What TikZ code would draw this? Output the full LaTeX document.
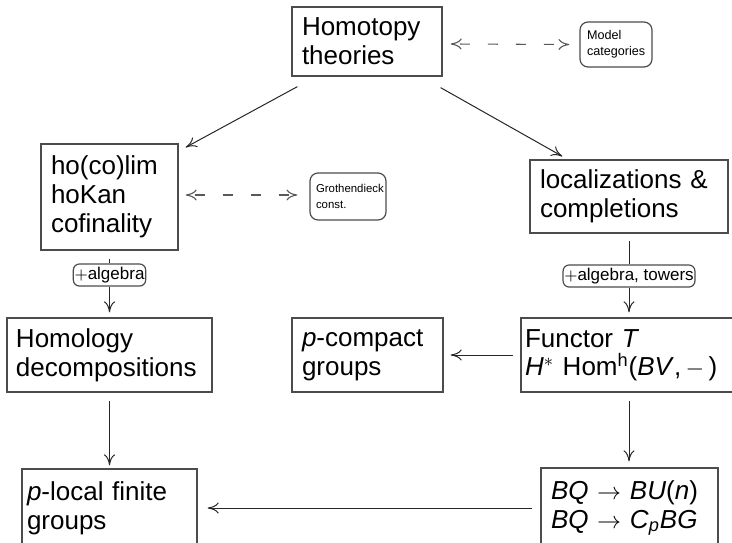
\documentclass[tikz,border=0pt]{standalone}
\usepackage{fontspec}
\setmainfont{Liberation Sans}
\usetikzlibrary{arrows.meta}

\tikzset{
  box/.style={draw=black!70, line width=0.65pt, align=left, inner ysep=0pt,
    inner xsep=5pt, font=\fontsize{13}{14.5}\selectfont},
  note/.style={draw=black!70, line width=0.6pt, rounded corners=4pt, align=left,
    inner ysep=0pt},
  tag/.style={draw=black!70, line width=0.6pt, rounded corners=3pt, fill=white,
    inner xsep=0.6pt, inner ysep=0pt, minimum height=11pt,
    font=\fontsize{8.5}{9.5}\selectfont},
  tip/.tip={To[length=5.5pt,width=5.5pt]},
  arr/.style={draw=black!85, line width=0.5pt, -tip},
  plain/.style={draw=black!85, line width=0.5pt},
  dasharr/.style={draw=black!65, line width=0.55pt, dash pattern=on 5pt off 9pt,
    dash phase=-4pt, tip-tip}
}

\begin{document}
\begin{tikzpicture}[x=0.5pt,y=-0.5pt]
\useasboundingbox (0,0) rectangle (732,542);
\clip (0,0) rectangle (732,542);

% boxes (positions in pixel units, sizes in pt)
\node[box, text width=65pt, minimum height=34.5pt] (homotopy) at (367,41.5)
  {Homotopy\\theories};
\node[note, text width=29pt, inner xsep=3.5pt, minimum height=22.5pt,
  font=\fontsize{6.3}{8.2}\selectfont] (model) at (616,44.5)
  {Model\\categories};
\node[box, text width=58.5pt, minimum height=53pt] (hocolim) at (109.5,197)
  {ho(co)lim\\hoKan\\cofinality};
\node[note, text width=32pt, inner xsep=3pt, minimum height=23.5pt,
  font=\fontsize{5.7}{7.8}\selectfont] (groth) at (348,196.5)
  {Grothendieck\\const.};
\node[box, text width=89pt, minimum height=36.5pt] (loc) at (629,196.5)
  {localizations \&\\completions};
\node[box, text width=93.5pt, inner xsep=4.5pt, minimum height=37pt] (homology) at (109.5,355)
  {Homology\\decompositions};
\node[box, text width=65.5pt, minimum height=37pt] (pcompact) at (367.5,355)
  {\textit{p}-compact\\groups};
\node[box, text width=108pt, inner xsep=2pt, minimum height=37pt] (functor) at (633,355)
  {Functor \textit{T}\\[-0.6pt]\textit{H}$^{*}$\ Hom\textsuperscript{h}(\textit{BV\/},\,$-$\,)};
\node[box, text width=78.5pt, minimum height=40pt] (bq) at (629.5,508)
  {\textit{BQ}\,\,$\to$\,\,\textit{BU}(\textit{n})\\\textit{BQ}\,\,$\to$\,\,\textit{C}\textsubscript{\textit{p}}\textit{BG}};
\node[box, text width=82.5pt, inner xsep=2.5pt, minimum height=39pt] (plocal) at (109.5,508)
  {\textit{p}-local finite\\groups};

% labels sitting on the vertical connectors
\node[tag] (alg1) at (109.5,275) {$+$algebra};
\node[tag] (alg2) at (629,276) {$+$algebra, towers};

% connectors
\draw[arr] ([shift={(6,10)}]homotopy.south west) -- ([shift={(7,4)}]hocolim.north east);
\draw[arr] ([shift={(-2,11)}]homotopy.south east) -- ([shift={(33,-3)}]loc.north west);
\draw[dasharr] ([shift={(8,2.5)}]homotopy.east) -- ([shift={(-10,0)}]model.west);
\draw[dasharr] ([shift={(7,-2)}]hocolim.east) -- ([shift={(-12,-1.5)}]groth.west);

\draw[plain] ([shift={(0,8)}]hocolim.south) -- (alg1.north);
\draw[arr] (alg1.south) -- ([shift={(0,-5)}]homology.north);
\draw[plain] ([shift={(0,7)}]loc.south) -- (alg2.north);
\draw[arr] (alg2.south) -- ([shift={(0,-5)}]functor.north -| alg2.south);

\draw[arr] ([shift={(-7,0)}]functor.west) -- ([shift={(7,0)}]pcompact.east);
\draw[arr] ([shift={(0,8)}]homology.south) -- ([shift={(0,-3)}]plocal.north);
\draw[arr] ([shift={(0,8)}]functor.south -| alg2.south) -- ([shift={(0,-6)}]bq.north -| alg2.south);
\draw[arr] ([shift={(-8,0)}]bq.west) -- ([shift={(10,0)}]plocal.east);
\end{tikzpicture}
\end{document}
